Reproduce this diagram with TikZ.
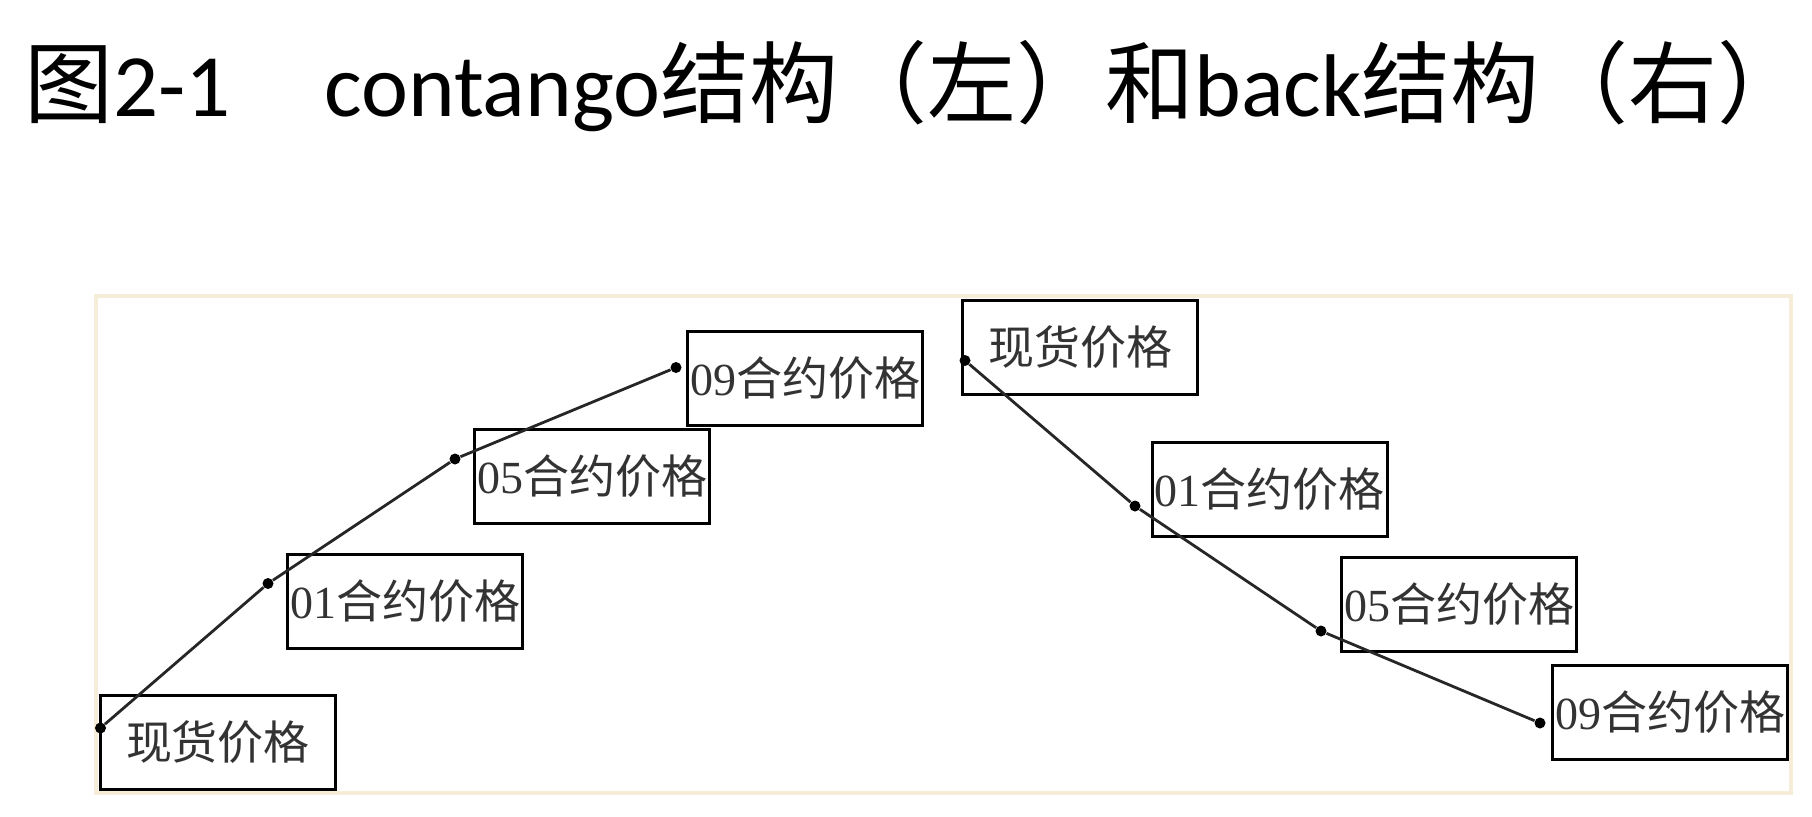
\documentclass[tikz,border=0pt]{standalone}
\usepackage{fontspec}
\setmainfont{Liberation Serif}
\newfontfamily\cjk{Noto Sans CJK SC}
\newfontfamily\calib{Carlito}
\usepackage{tikz}

\definecolor{framecol}{HTML}{F6EDD8}
\definecolor{textcol}{HTML}{333333}

\begin{document}
\begin{tikzpicture}[x=0.5pt, y=-0.5pt,
  box/.style={draw, line width=1.5pt, minimum width=117.5pt, minimum height=47pt, inner sep=0pt, outer sep=0pt,
    font=\fontsize{23}{27}\selectfont, text=textcol},
  dot/.style={circle, fill, inner sep=0pt, minimum size=5.5pt},
  curve/.style={line width=1.4pt, draw=black!85}]
\useasboundingbox (0,0) rectangle (1812,816);

% title
\node[anchor=base west, inner sep=0pt, font=\fontsize{44.5}{50}\selectfont] (title) at (24,116)
  {{\cjk 图}{\calib 2-1}\hspace{1.05em}{\calib contango}{\cjk 结构（左）和}{\calib back}{\cjk 结构（右）\kern-0.45em}};

% frame
\draw[framecol, line width=2pt] (96,296) rectangle (1791,793);

% contango (left)
\node[box] (L0) at (218,742) {\cjk 现货价格};
\node[box] (L1) at (405,601) {01\cjk 合约价格};
\node[box] (L2) at (592,476) {05\cjk 合约价格};
\node[box] (L3) at (805,378) {09\cjk 合约价格};

\node[dot] (l0) at (100.5,728) {};
\node[dot] (l1) at (268,583.5) {};
\node[dot] (l2) at (455,459) {};
\node[dot] (l3) at (676,367.5) {};
\draw[curve] (l0) -- (l1) -- (l2) -- (l3);

% back (right)
\node[box] (R0) at (1080,347) {\cjk 现货价格};
\node[box] (R1) at (1269.5,489) {01\cjk 合约价格};
\node[box] (R2) at (1459,604) {05\cjk 合约价格};
\node[box] (R3) at (1670,712) {09\cjk 合约价格};

\node[dot] (r0) at (965,360.5) {};
\node[dot] (r1) at (1135,506) {};
\node[dot] (r2) at (1321,631) {};
\node[dot] (r3) at (1540,723) {};
\draw[curve] (r0) -- (r1) -- (r2) -- (r3);
\end{tikzpicture}
\end{document}
